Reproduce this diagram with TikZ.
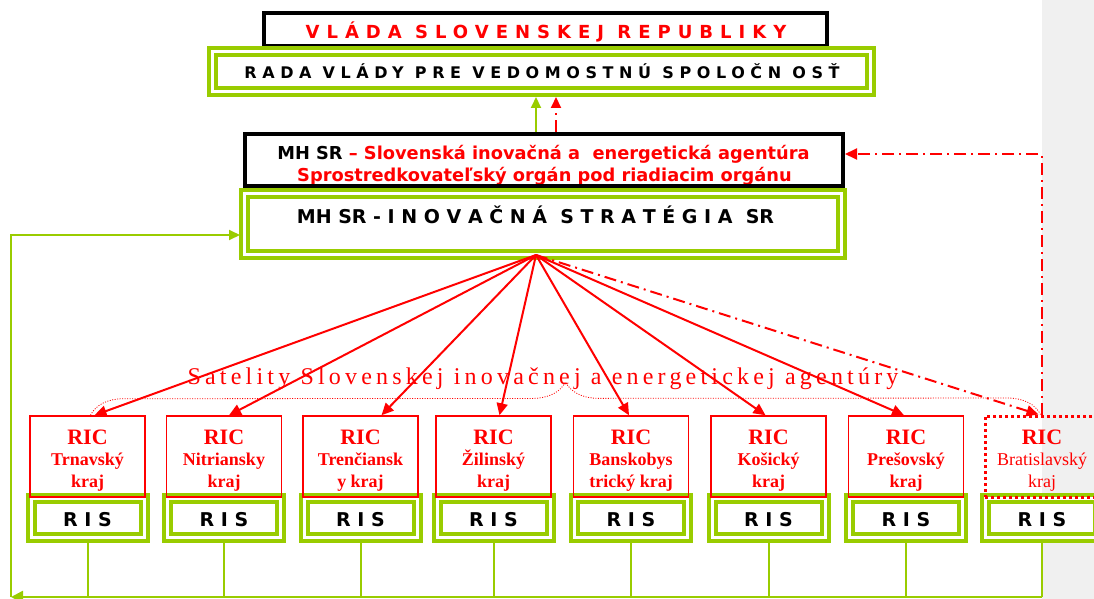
\documentclass[tikz,border=0pt]{standalone}
\usepackage{fontspec}
\setmainfont{Liberation Serif}
\newfontfamily\vsans{DejaVu Sans}
\usetikzlibrary{arrows.meta,calc,decorations.pathreplacing}
\definecolor{lgreen}{RGB}{153,204,0}
\definecolor{rred}{RGB}{255,0,0}
\definecolor{pgrey}{RGB}{240,240,240}
\newcommand\lsp[2]{{\addfontfeature{LetterSpace=#1}#2}}
\newcommand\ricstack[2]{\vtop{\baselineskip=21.5pt\lineskiplimit=-20pt\lineskip=0pt\halign{\hfil##\hfil\cr{\bfseries\fontsize{22}{22}\selectfont RIC}\cr #1\cr #2\cr}}}
\begin{document}
\begin{tikzpicture}[x=1pt,y=-1pt,
  blackbox/.style={draw=black,line width=4pt,inner sep=0pt},
  greenbox/.style={draw=lgreen,line width=4pt,double=white,double distance=3pt,fill=white,inner sep=0pt},
  vtext/.style={inner sep=0pt,anchor=base},
  ricbox/.style={draw=rred,line width=1.5pt,minimum width=115pt,minimum height=81pt,inner sep=0pt},
  ricdot/.style={draw=rred,line width=3pt,dash pattern=on 3pt off 3pt,minimum width=115pt,minimum height=81pt,inner sep=0pt},
  rictext/.style={text=rred,inner sep=0pt,anchor=base},
  risbox/.style={greenbox,minimum width=113pt,minimum height=39pt},
  rarrow/.style={draw=rred,line width=2pt,-{Triangle[length=12pt,width=11pt]}},
  ddash/.style={draw=rred,line width=2pt,dash pattern=on 12pt off 5pt on 2pt off 5pt},
  garrow/.style={draw=lgreen,line width=2pt,-{Triangle[length=11pt,width=10pt]}},
  gline/.style={draw=lgreen,line width=2pt},
]
\useasboundingbox (0,0) rectangle (1094,599);
\fill[pgrey] (1042,0) rectangle (1094,599);

% top boxes
\node[blackbox,minimum width=563pt,minimum height=33pt] (vlada) at (545.5,29.5) {};
\node[greenbox,minimum width=658pt,minimum height=40pt] (rada) at (541.5,71.5) {};
\node[vtext,text=rred,font=\vsans\bfseries\fontsize{18}{18}\selectfont] (vladat) at (546,39) {\lsp{39}{VLÁDA SLOVENSKEJ REPUBLIKY}};
\node[vtext,font=\vsans\bfseries\fontsize{16}{16}\selectfont] (radat) at (542,79) {\lsp{35}{RADA VLÁDY PRE VEDOMOSTNÚ SPOLOČN OSŤ}};

% MH SR box
\node[vtext,text=rred,font=\vsans\bfseries\fontsize{17.8}{17.8}\selectfont] (mha) at (543.5,159) {\textcolor{black}{MH SR} – Slovenská inovačná a\ \ energetická agentúra};
\node[vtext,text=rred,font=\vsans\bfseries\fontsize{17.8}{17.8}\selectfont] (mhb) at (544.5,181) {Sprostredkovateľský orgán pod riadiacim orgánu};
\node[blackbox,minimum width=598pt,minimum height=52pt] (mhsr) at (544,160) {};

% strategy box
\node[greenbox,minimum width=597pt,minimum height=61pt] (inov) at (543,224) {};
\node[vtext,font=\vsans\bfseries\fontsize{19}{19}\selectfont] (inovt) at (535.5,223) {MH SR - I N O V A Č N Á\ \ S T R A T É G I A\ \ SR};

% regional columns
\foreach \n/\x/\nameA/\nameB in {1/87.5/Trnavský/kraj,2/224/Nitriansky/kraj,3/360.5/Trenčiansk/y kraj,4/493.5/Žilinský/kraj,5/631/Banskobys/trický kraj,6/768.5/Košický/kraj,7/906/Prešovský/kraj}{
  \node[risbox] (ris\n) at (\x,518) {};
  \node[vtext,font=\vsans\bfseries\fontsize{19}{19}\selectfont] (rist\n) at (\x,526) {R I S};
  \node[ricbox] (ric\n) at (\x,456.5) {};
  \node[rictext,font=\bfseries\fontsize{18}{21.5}\selectfont] (rict\n) at (\x,444) {\ricstack{\nameA}{\nameB}};
}
\node[risbox] (ris8) at (1042,518) {};
\node[vtext,font=\vsans\bfseries\fontsize{19}{19}\selectfont] (rist8) at (1042,526) {R I S};
\node[ricdot] (ric8) at (1042.5,456.5) {};
\node[rictext,font=\fontsize{18}{21.5}\selectfont] (rict8) at (1042,444) {\ricstack{Bratislavský}{kraj}};

% satellites label and brace
\node[vtext,text=rred,font=\fontsize{24}{24}\selectfont] (sat) at (543,384) {\lsp{17.5}{Satelity Slovenskej inovačnej a energetickej agentúry}};
\draw[rred,line width=0.8pt,dash pattern=on 1pt off 1.5pt,decorate,decoration={brace,amplitude=33pt}] ($(ric1.north)+(3,0)$) -- ($(ric8.north)+(-2,0)$);

% arrows from strategy
\coordinate (hub) at (536,255);
\draw[rarrow] (hub) -- ($(ric1.north)+(7,0)$);
\draw[rarrow] (hub) -- ($(ric2.north)+(5,0)$);
\draw[rarrow] (hub) -- ($(ric3.north)+(21,0)$);
\draw[rarrow] (hub) -- ($(ric4.north)+(6,0)$);
\draw[rarrow] (hub) -- ($(ric5.north)+(-2,0)$);
\draw[rarrow] (hub) -- ($(ric6.north)+(-3,0)$);
\draw[rarrow] (hub) -- ($(ric7.north)+(-2,0)$);
\draw[ddash,-{Triangle[length=12pt,width=11pt]}] (hub) -- ($(ric8.north)+(-4,0)$);
\draw[ddash,-{Triangle[length=12pt,width=11pt]}] ($(ric8.north)+(-1,0)$) |- ($(mhsr.east)+(0,-6)$);

% arrows up
\draw[garrow] (hub |- mhsr.north) -- ($(hub |- rada.south)+(0,3.5)$);
\draw[ddash,-{Triangle[length=11pt,width=10pt]}] ($(hub |- mhsr.north)+(20,0)$) -- ($(hub |- rada.south)+(20,3.5)$);

% feedback loop
\coordinate (corner) at (11,597);
\foreach \n in {1,...,8}{\draw[gline] (ris\n.south) -- (ris\n.south |- corner);}
\draw[gline,line width=2.5pt,-{Triangle[length=12pt,width=12pt]}] (ris8.south |- corner) -- (corner);
\draw[gline,line width=2pt,-{Triangle[length=11pt,width=10pt]}] (corner) |- ($(inov.west)+(-2.5,11)$);
\end{tikzpicture}
\end{document}
